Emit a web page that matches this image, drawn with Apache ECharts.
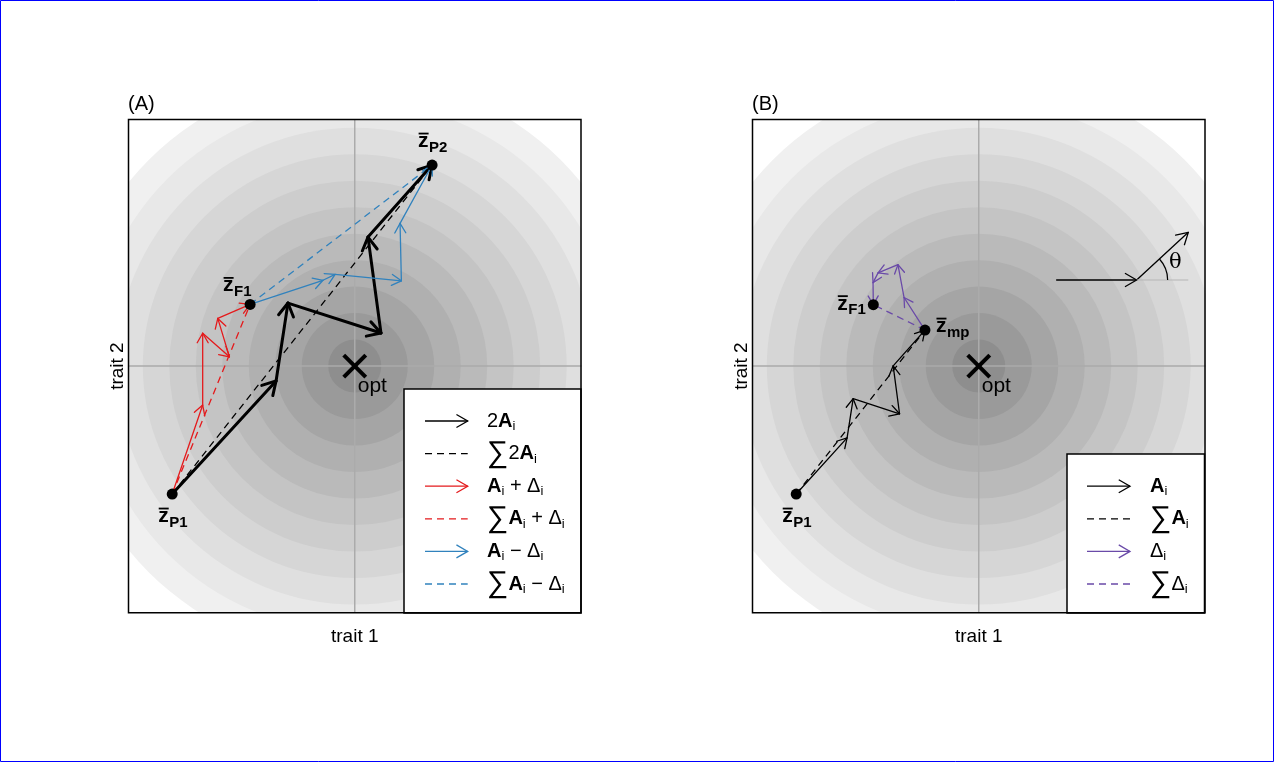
<!DOCTYPE html>
<html><head><meta charset="utf-8">
<script src="https://cdn.jsdelivr.net/npm/echarts@6/dist/echarts.min.js"></script>
<style>html,body{margin:0;padding:0;background:#fff}#c{width:1275px;height:763px}</style>
</head><body><div id="c"></div>
<script>
// ---------- data (units: fitness-contour spacing, optimum at 0,0) ----------
const ringRadii  = [11,10,9,8,7,6,5,4,3,2,1];
const ringColors = ['#f0f0f0','#e8e8e8','#dfdfdf','#d6d6d6','#cdcdcd','#c4c4c4','#bababa','#b0b0b0','#a5a5a5','#9a9a9a','#8e8e8e'];
const xHalf = 8.54, yHalf = 9.31;
const optPoint = [0, 0];

// Panel A
const pathA_2A    = [[-6.89,-4.83],[-2.97,-0.56],[-2.52,2.38],[0.99,1.25],[0.50,4.87],[2.92,7.59]];
const pathA_plus  = [[-6.89,-4.83],[-5.74,-1.47],[-5.74,1.24],[-4.73,0.35],[-5.17,1.80],[-3.95,2.33]];
const pathA_minus = [[-3.95,2.33],[-1.20,3.24],[-0.74,3.46],[1.76,3.22],[1.71,5.39],[2.92,7.59]];
const pointsA = [
  {name:'P1', value:[-6.89,-4.83]},
  {name:'F1', value:[-3.95,2.33]},
  {name:'P2', value:[2.92,7.59]}
];
// Panel B
const pathB_A     = [[-6.89,-4.83],[-4.97,-2.71],[-4.74,-1.23],[-2.99,-1.80],[-3.23,0.01],[-2.03,1.36]];
const pathB_D     = [[-2.03,1.36],[-2.82,2.59],[-3.05,3.83],[-3.80,3.52],[-3.99,3.15],[-3.98,2.32]];
const pointsB = [
  {name:'P1', value:[-6.89,-4.83]},
  {name:'F1', value:[-3.98,2.32]},
  {name:'mp', value:[-2.03,1.36]}
];
// angle illustration (panel B)
const thetaIn   = [2.94,3.25,5.96,3.25];
const thetaOut  = [5.96,3.25,7.91,5.05];
const thetaRef  = [5.96,3.25,7.91,3.25];
const thetaArcR = 1.17;
const thetaDeg  = 42.7;
const thetaLabel = [7.42,3.92];

const legendA = [
  {kind:'arrow', color:'#000000', text:'{n|2}{b|A}{s|i}'},
  {kind:'dash',  color:'#000000', text:'{sum|∑}{n|2}{b|A}{s|i}'},
  {kind:'arrow', color:'#e41a1c', text:'{b|A}{s|i}{n| + }{d|Δ}{s|i}'},
  {kind:'dash',  color:'#e41a1c', text:'{sum|∑}{b|A}{s|i}{n| + }{d|Δ}{s|i}'},
  {kind:'arrow', color:'#3182bd', text:'{b|A}{s|i}{n| − }{d|Δ}{s|i}'},
  {kind:'dash',  color:'#3182bd', text:'{sum|∑}{b|A}{s|i}{n| − }{d|Δ}{s|i}'}
];
const legendB = [
  {kind:'arrow', color:'#000000', text:'{b|A}{s|i}'},
  {kind:'dash',  color:'#000000', text:'{sum|∑}{b|A}{s|i}'},
  {kind:'arrow', color:'#6a4aa8', text:'{d|Δ}{s|i}'},
  {kind:'dash',  color:'#6a4aa8', text:'{sum|∑}{d|Δ}{s|i}'}
];

// ---------- helpers ----------
const FONT = 'Liberation Sans, Arial, sans-serif';
const RED = '#e41a1c', BLUE = '#3182bd', PURPLE = '#6a4aa8';
function segs(path){ const out=[]; for(let i=0;i<path.length-1;i++) out.push([path[i][0],path[i][1],path[i+1][0],path[i+1][1]]); return out; }
function ends(path){ return [[path[0][0],path[0][1],path[path.length-1][0],path[path.length-1][1]]]; }
function headPts(x1,y1,x2,y2,L){
  const a=Math.atan2(y2-y1,x2-x1), g=Math.PI/6;
  return [[x2-L*Math.cos(a-g),y2-L*Math.sin(a-g)],[x2,y2],[x2-L*Math.cos(a+g),y2-L*Math.sin(a+g)]];
}
function lineSeries(idx, data, color, width, head, dash, z){
  return {
    type:'custom', xAxisIndex:idx, yAxisIndex:idx, clip:true, z:z||5, silent:true,
    dimensions:['x1','y1','x2','y2'], encode:{x:[0,2], y:[1,3]},
    data:data,
    renderItem:function(params, api){
      const p1=api.coord([api.value(0),api.value(1)]);
      const p2=api.coord([api.value(2),api.value(3)]);
      const ch=[{type:'line', shape:{x1:p1[0],y1:p1[1],x2:p2[0],y2:p2[1]},
        style:{stroke:color,lineWidth:width,lineDash:dash||null,lineCap:dash?'butt':'round'}}];
      if(head){ ch.push({type:'polyline', shape:{points:headPts(p1[0],p1[1],p2[0],p2[1],head)},
        style:{stroke:color,lineWidth:width,fill:null,lineCap:'round',lineJoin:'round'}}); }
      return {type:'group', children:ch};
    }
  };
}
function ringSeries(idx){
  return {
    type:'custom', xAxisIndex:idx, yAxisIndex:idx, clip:true, z:1, silent:true,
    data: ringRadii.map((r,i)=>[optPoint[0],optPoint[1],r,i]),
    encode:{x:0,y:1},
    renderItem:function(params, api){
      const c=api.coord([api.value(0),api.value(1)]);
      const r=api.size([api.value(2),0])[0];
      return {type:'circle', shape:{cx:c[0],cy:c[1],r:r}, style:{fill:ringColors[api.value(3)]}};
    }
  };
}
function crossSeries(idx){
  return lineSeries(idx, [[-xHalf,0,xHalf,0],[0,-yHalf,0,yHalf]], '#ababab', 1.5, 0, null, 2);
}
function optSeries(idx){
  return {
    type:'custom', xAxisIndex:idx, yAxisIndex:idx, z:8, silent:true,
    data:[optPoint], encode:{x:0,y:1},
    renderItem:function(params, api){
      const c=api.coord([api.value(0),api.value(1)]); const s=11;
      return {type:'group', children:[
        {type:'line', shape:{x1:c[0]-s,y1:c[1]-s,x2:c[0]+s,y2:c[1]+s}, style:{stroke:'#000',lineWidth:4}},
        {type:'line', shape:{x1:c[0]-s,y1:c[1]+s,x2:c[0]+s,y2:c[1]-s}, style:{stroke:'#000',lineWidth:4}},
        {type:'text', x:c[0]+3, y:c[1]+20, style:{text:'opt', font:'21px '+FONT, fill:'#000', align:'left', verticalAlign:'middle'}}
      ]};
    }
  };
}
// label placement: [left of "z" relative to dot, baseline of "z" relative to dot] in px
const labelLayout = {
  A:{P1:[-14,29], F1:[-27,-12], P2:[-14,-17]},
  B:{P1:[-14,29], F1:[-36,6], mp:[11,3]}
};
function pointSeries(idx, pts, key){
  return {
    type:'custom', xAxisIndex:idx, yAxisIndex:idx, z:9, silent:true,
    data: pts.map(p=>({name:p.name, value:p.value})), encode:{x:0,y:1},
    renderItem:function(params, api){
      const c=api.coord([api.value(0),api.value(1)]);
      const nm=pts[params.dataIndex].name;
      const L=labelLayout[key][nm];
      const zx=c[0]+L[0], zb=c[1]+L[1];
      const zf=21, sf=15;
      return {type:'group', children:[
        {type:'circle', shape:{cx:c[0],cy:c[1],r:5.5}, style:{fill:'#000'}},
        {type:'text', x:zx, y:zb-0.33*zf, style:{text:'z', font:'bold '+zf+'px '+FONT, fill:'#000', align:'left', verticalAlign:'middle'}},
        {type:'line', shape:{x1:zx+0.5,y1:zb-14.5,x2:zx+10.5,y2:zb-14.5}, style:{stroke:'#000',lineWidth:1.8}},
        {type:'text', x:zx+11, y:zb+4.5-0.33*sf, style:{text:nm, font:'bold '+sf+'px '+FONT, fill:'#000', align:'left', verticalAlign:'middle'}}
      ]};
    }
  };
}
function thetaSeries(idx){
  return {
    type:'custom', xAxisIndex:idx, yAxisIndex:idx, z:7, silent:true,
    data:[thetaRef.concat(thetaLabel)], encode:{x:0,y:1},
    renderItem:function(params, api){
      const c=api.coord([api.value(0),api.value(1)]);
      const e=api.coord([api.value(2),api.value(3)]);
      const t=api.coord([api.value(4),api.value(5)]);
      const r=api.size([thetaArcR,0])[0];
      return {type:'group', children:[
        {type:'line', shape:{x1:c[0],y1:c[1],x2:e[0],y2:e[1]}, style:{stroke:'#b5b5b5',lineWidth:1.2}},
        {type:'arc', shape:{cx:c[0],cy:c[1],r:r,startAngle:-thetaDeg*Math.PI/180,endAngle:0}, style:{stroke:'#000',lineWidth:1.2,fill:null}},
        {type:'text', x:t[0], y:t[1], style:{text:'θ', font:'21px DejaVu Serif, serif', fill:'#000', align:'center', verticalAlign:'middle'}}
      ]};
    }
  };
}

// ---------- legend graphics ----------
function legendRich(color){
  return {
    n:{fontSize:20, fontFamily:FONT, color:color},
    b:{fontSize:20, fontFamily:FONT, fontWeight:'bold', color:color},
    d:{fontSize:20, fontFamily:FONT, color:color},
    s:{fontSize:13, fontFamily:FONT, color:color, padding:[11,0,0,0]},
    sum:{fontSize:30, fontFamily:FONT, color:color}
  };
}
function legendGraphics(items, box, lineX1, lineX2, textX, y0, dy){
  const els=[{type:'rect', shape:{x:box[0],y:box[1],width:box[2],height:box[3]}, style:{fill:'#fff',stroke:'#000',lineWidth:1.5}, z:100}];
  items.forEach((it,i)=>{
    const y=y0+i*dy;
    if(it.kind==='arrow'){
      els.push({type:'line', shape:{x1:lineX1,y1:y,x2:lineX2,y2:y}, style:{stroke:it.color,lineWidth:1.3}, z:101});
      els.push({type:'polyline', shape:{points:headPts(lineX1,y,lineX2,y,13)}, style:{stroke:it.color,lineWidth:1.3,fill:null}, z:101});
    } else {
      els.push({type:'line', shape:{x1:lineX1,y1:y,x2:lineX2,y2:y}, style:{stroke:it.color,lineWidth:1.3,lineDash:[7,5]}, z:101});
    }
    els.push({type:'text', x:textX, y:y, style:{text:it.text, rich:legendRich(it.color), align:'left', verticalAlign:'middle'}, z:101});
  });
  return els;
}

const GA={left:128.5, top:119.5, width:452.5, height:493.2};
const GB={left:752.5, top:119.5, width:452.5, height:493.2};

const graphics = [
  {type:'rect', shape:{x:0.5,y:0.5,width:1273,height:761}, style:{fill:null,stroke:'#0000ff',lineWidth:1}, z:0},
  {type:'rect', shape:{x:GA.left,y:GA.top,width:GA.width,height:GA.height}, style:{fill:null,stroke:'#000',lineWidth:1.5}, z:120},
  {type:'rect', shape:{x:GB.left,y:GB.top,width:GB.width,height:GB.height}, style:{fill:null,stroke:'#000',lineWidth:1.5}, z:120}
].concat(
  legendGraphics(legendA, [404,389,177,224], 425, 467.7, 487, 421, 32.6),
  legendGraphics(legendB, [1067,454,137.5,159], 1087, 1130, 1150, 486.2, 32.6)
);

function axisX(idx){ return {type:'value', gridIndex:idx, min:-xHalf, max:xHalf, axisLine:{show:false}, axisTick:{show:false}, axisLabel:{show:false}, splitLine:{show:false},
  name:'trait 1', nameLocation:'middle', nameGap:15, nameTextStyle:{fontSize:19, fontFamily:FONT, color:'#000'}}; }
function axisY(idx){ return {type:'value', gridIndex:idx, min:-yHalf, max:yHalf, axisLine:{show:false}, axisTick:{show:false}, axisLabel:{show:false}, splitLine:{show:false},
  name:'trait 2', nameLocation:'middle', nameGap:1, nameRotate:90, nameTextStyle:{fontSize:19, fontFamily:FONT, color:'#000'}}; }

const option = {
  animation:false,
  backgroundColor:'#ffffff',
  title:[
    {text:'(A)', left:128, top:94, padding:0, textStyle:{fontSize:20, fontWeight:'normal', fontFamily:FONT, color:'#000'}},
    {text:'(B)', left:752, top:94, padding:0, textStyle:{fontSize:20, fontWeight:'normal', fontFamily:FONT, color:'#000'}}
  ],
  grid:[GA, GB],
  xAxis:[axisX(0), axisX(1)],
  yAxis:[axisY(0), axisY(1)],
  graphic:graphics,
  series:[
    ringSeries(0), crossSeries(0),
    lineSeries(0, ends(pathA_2A), '#000', 1.3, 0, [7,5], 3),
    lineSeries(0, ends(pathA_plus), RED, 1.3, 0, [7,5], 3),
    lineSeries(0, ends(pathA_minus), BLUE, 1.3, 0, [7,5], 3),
    lineSeries(0, segs(pathA_2A), '#000', 3, 15, null, 4),
    lineSeries(0, segs(pathA_plus), RED, 1.3, 11, null, 5),
    lineSeries(0, segs(pathA_minus), BLUE, 1.3, 11, null, 5),
    optSeries(0), pointSeries(0, pointsA, 'A'),

    ringSeries(1), crossSeries(1),
    lineSeries(1, ends(pathB_A), '#000', 1.3, 0, [7,5], 3),
    lineSeries(1, ends(pathB_D), PURPLE, 1.3, 0, [7,5], 3),
    lineSeries(1, segs(pathB_A), '#000', 1.3, 11, null, 5),
    lineSeries(1, segs(pathB_D), PURPLE, 1.3, 10, null, 5),
    lineSeries(1, [thetaIn, thetaOut], '#000', 1.3, 13, null, 6),
    thetaSeries(1),
    optSeries(1), pointSeries(1, pointsB, 'B')
  ]
};
const chart = echarts.init(document.getElementById('c'), null, {renderer:'canvas'});
chart.setOption(option);
</script></body></html>
